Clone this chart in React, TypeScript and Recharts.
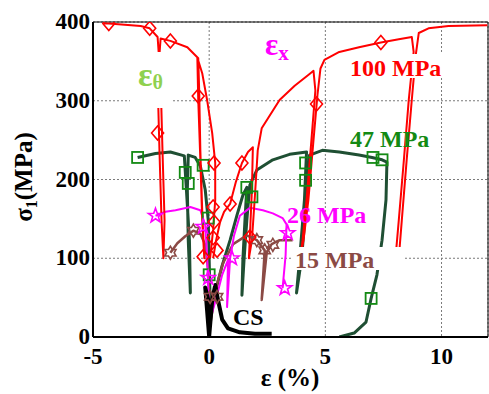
import React from "react";
import { ComposedChart, Line, Scatter, XAxis, YAxis, CartesianGrid, ReferenceArea } from "recharts";

type Pt = [number, number];

const xTicks = [-5, 0, 5, 10];
const yTicks = [0, 100, 200, 300, 400];

// 100 MPa: axial (ex) and hoop (etheta) strain, with unload loops
const ex100: Pt[] = [
  [0.17, 100], [0.3, 123], [0.47, 146], [0.64, 159], [0.9, 169], [1.15, 197], [1.41, 221], [1.67, 235], [1.88, 241],
  [1.84, 187], [1.75, 127], [1.71, 100], [1.84, 123], [1.97, 180], [2.09, 237],
  [2.26, 265], [3.03, 301], [3.68, 319], [4.32, 334], [4.49, 338],
  [4.57, 313], [4.4, 250], [4.19, 174], [4.02, 123], [3.93, 102], [4.06, 123], [4.27, 174], [4.49, 250], [4.66, 307],
  [4.79, 341], [4.96, 352], [5.6, 362], [6.45, 368], [7.39, 374], [8.16, 378], [8.72, 381],
  [8.8, 362], [8.59, 301], [8.38, 225], [8.16, 148], [8.03, 104], [8.16, 100], [8.29, 148], [8.5, 225], [8.72, 301], [8.89, 358],
  [9.02, 386], [9.44, 392], [10.3, 395], [11.97, 396],
];
const eth100: Pt[] = [
  [0.04, 100], [0.17, 136], [0.26, 174], [0.26, 221], [0.13, 259], [-0.09, 301], [-0.3, 335], [-0.51, 355],
  [-0.47, 301], [-0.38, 225], [-0.3, 148], [-0.21, 100], [-0.3, 161], [-0.38, 237], [-0.43, 313], [-0.47, 354],
  [-0.94, 368], [-1.67, 376], [-2.09, 379],
  [-2.22, 326], [-2.14, 237], [-2.05, 148], [-1.97, 100], [-1.92, 148], [-2.01, 237], [-2.09, 326], [-2.22, 381],
  [-2.56, 392], [-2.95, 395], [-4.32, 398], [-4.53, 398],
];
const marks100: Pt[] = [
  [-4.32, 398], [-2.56, 392], [-1.67, 376], [-0.47, 306], [-2.22, 259], [0.21, 221], [0.17, 165], [0.21, 146],
  [0.17, 126], [-0.26, 102], [0.34, 110], [0.9, 169], [1.41, 221], [1.75, 127], [4.62, 296], [7.39, 374],
];

// 47 MPa
const ex47: Pt[] = [
  [0.09, 47], [0.34, 66], [0.56, 91], [0.9, 123], [1.2, 155], [1.45, 180], [1.62, 190],
  [1.54, 148], [1.45, 98], [1.41, 53], [1.5, 98], [1.62, 148], [1.75, 193],
  [2.05, 212], [2.74, 225], [3.46, 232], [4.19, 235],
  [4.1, 174], [3.89, 98], [3.76, 56], [3.97, 98], [4.19, 174], [4.32, 231],
  [4.87, 237], [5.6, 235], [6.45, 231], [7.01, 228], [7.44, 225], [7.65, 222],
  [7.61, 174], [7.44, 123], [7.22, 79], [6.97, 49], [6.75, 19], [6.24, 5], [5.6, 0],
];
const eth47: Pt[] = [
  [0.04, 47], [0, 98], [-0.04, 148], [-0.17, 187], [-0.38, 217], [-0.6, 228], [-0.9, 231],
  [-0.94, 187], [-0.9, 123], [-0.81, 56], [-0.85, 123], [-0.98, 187], [-1.07, 230],
  [-1.67, 235], [-2.31, 233], [-3.08, 228],
];
const marks47: Pt[] = [
  [-3.08, 228], [-1.03, 209], [-0.9, 195], [-0.26, 218], [-0.04, 151], [0, 79], [1.62, 190], [1.84, 178],
  [4.15, 221], [4.15, 199], [7.05, 228], [7.44, 225], [6.97, 49],
];

// 26 MPa
const eth26: Pt[] = [
  [0, 27], [-0.04, 60], [-0.09, 104], [-0.17, 142], [-0.38, 161], [-0.81, 165], [-1.45, 161], [-1.88, 159], [-2.31, 154],
];
const ex26: Pt[] = [
  [0.09, 27], [0.3, 49], [0.56, 79], [0.81, 98], [0.77, 38], [0.9, 100], [1.07, 129], [1.32, 154], [1.75, 164],
  [2.31, 161], [2.74, 157], [3.16, 151], [3.33, 143], [3.29, 104], [3.16, 62],
];
const marks26: Pt[] = [[-2.31, 154], [-0.26, 140], [-0.04, 75], [0.98, 100], [3.38, 132], [3.25, 62]];

// 15 MPa
const eth15: Pt[] = [
  [0, 15], [0, 47], [-0.04, 85], [-0.17, 117], [-0.38, 131], [-0.68, 135], [-1.03, 128], [-1.37, 119], [-1.67, 107],
];
const ex15: Pt[] = [
  [0.04, 15], [0.21, 47], [0.38, 72], [0.6, 94], [1.03, 118], [1.62, 129], [2.05, 123], [2.39, 110],
  [2.26, 47], [2.48, 108], [2.69, 118], [3.03, 123], [3.59, 123],
];
const marks15: Pt[] = [[-1.67, 107], [-0.68, 135], [0.04, 51], [0.34, 51], [2.05, 123], [2.39, 110], [2.74, 117]];

// confined-free (CS)
const cs: Pt[] = [
  [0, 0], [-0.09, 34], [-0.17, 63], [-0.04, 47], [0, 1], [0.13, 47], [0.26, 66], [0.38, 47],
  [0.56, 22], [0.81, 11], [1.32, 6], [1.97, 4], [2.69, 4],
];

const rows = (a: Pt[]) => a.map(([x, y]) => ({ x, y }));

const RED = "#ff0000";
const DKGREEN = "#1f4f33";
const GREEN = "#138a13";
const MAGENTA = "#ff00ff";
const BROWN = "#8b4a45";

const Diamond = (p: any) => (
  <polygon
    points={`${p.cx},${p.cy - 7} ${p.cx + 6},${p.cy} ${p.cx},${p.cy + 7} ${p.cx - 6},${p.cy}`}
    fill="none" stroke={RED} strokeWidth={1.6}
  />
);
const Square = (p: any) => (
  <rect x={p.cx - 5.5} y={p.cy - 5.5} width={11} height={11} fill="none" stroke={GREEN} strokeWidth={1.8} />
);
const starPts = (cx: number, cy: number, R: number, r: number, n: number) => {
  const out: string[] = [];
  for (let i = 0; i < n * 2; i++) {
    const rad = i % 2 === 0 ? R : r;
    const a = -Math.PI / 2 + (i * Math.PI) / n;
    out.push(`${cx + rad * Math.cos(a)},${cy + rad * Math.sin(a)}`);
  }
  return out.join(" ");
};
const Star = (p: any) => (
  <polygon points={starPts(p.cx, p.cy, 7.5, 3, 5)} fill="none" stroke={MAGENTA} strokeWidth={1.6} />
);
const Hexagram = (p: any) => (
  <polygon points={starPts(p.cx, p.cy, 6.5, 3.8, 6)} fill="none" stroke={BROWN} strokeWidth={1.6} />
);

const font = "Liberation Serif";

const XTick = ({ x, y, payload }: any) => (
  <text x={x} y={y} dy={16} textAnchor="middle" fontFamily={font} fontWeight="bold" fontSize={23} fill="#000">
    {payload.value}
  </text>
);
const YTick = ({ x, y, payload }: any) => (
  <text x={x} y={y} dy={7} textAnchor="end" fontFamily={font} fontWeight="bold" fontSize={23} fill="#000">
    {payload.value}
  </text>
);

export default function App() {
  const lineProps = { dataKey: "y", dot: false, activeDot: false, isAnimationActive: false, strokeLinejoin: "round" as const };
  return (
    <div style={{ position: "absolute", left: 0, top: 0, width: 489, height: 394, background: "#fff" }}>
      <ComposedChart width={489} height={394} margin={{ top: 22, right: 1, bottom: 0, left: 0 }}>
        <CartesianGrid stroke="#7a7a7a" strokeDasharray="2 2" />
        <XAxis
          dataKey="x" type="number" domain={[-5, 12]} ticks={xTicks} allowDataOverflow
          height={57} tickLine={false} tickSize={0} tickMargin={11}
          axisLine={{ stroke: "#000", strokeWidth: 2 }}
          tick={<XTick />}
        />
        <YAxis
          dataKey="y" type="number" domain={[0, 400]} ticks={yTicks} allowDataOverflow
          width={93} tickLine={false} tickSize={0} tickMargin={3}
          axisLine={{ stroke: "#000", strokeWidth: 2 }}
          tick={<YTick />}
        />
        <ReferenceArea x1={-5} x2={12} y1={0} y2={400} fill="none" stroke="#000" strokeWidth={1} />
        <Line data={rows(ex47)} stroke={DKGREEN} strokeWidth={3} {...lineProps} />
        <Line data={rows(eth47)} stroke={DKGREEN} strokeWidth={3} {...lineProps} />
        <Line data={rows(ex15)} stroke={BROWN} strokeWidth={2.5} {...lineProps} />
        <Line data={rows(eth15)} stroke={BROWN} strokeWidth={2.5} {...lineProps} />
        <Line data={rows(ex26)} stroke={MAGENTA} strokeWidth={2} {...lineProps} />
        <Line data={rows(eth26)} stroke={MAGENTA} strokeWidth={2} {...lineProps} />
        <Line data={rows(ex100)} stroke={RED} strokeWidth={2} {...lineProps} />
        <Line data={rows(eth100)} stroke={RED} strokeWidth={2} {...lineProps} />
        <Line data={rows(cs)} stroke="#000" strokeWidth={4} {...lineProps} />
        <Scatter data={rows(marks47)} dataKey="y" shape={Square} isAnimationActive={false} />
        <Scatter data={rows(marks15)} dataKey="y" shape={Hexagram} isAnimationActive={false} />
        <Scatter data={rows(marks26)} dataKey="y" shape={Star} isAnimationActive={false} />
        <Scatter data={rows(marks100)} dataKey="y" shape={Diamond} isAnimationActive={false} />
      </ComposedChart>
      <svg width={489} height={394} style={{ position: "absolute", left: 0, top: 0, pointerEvents: "none" }}>
        <g fontFamily={font} fontWeight="bold">
          <rect x={130} y={52} width={42} height={56} fill="#fff" />
          <text x={138} y={86} fontSize={34} fill="#8fd14f">
            ε<tspan fontSize={20} dy={3}>θ</tspan>
          </text>
          <text x={265} y={55} fontSize={31} fill={MAGENTA}>
            ε<tspan fontSize={21} dy={5}>x</tspan>
          </text>
          <rect x={348} y={54} width={95} height={24} fill="#fff" />
          <text x={350} y={76} fontSize={24} fill={RED}>100 MPa</text>
          <text x={350} y={147} fontSize={24} fill={GREEN}>47 MPa</text>
          <text x={287} y={223} fontSize={24} fill={MAGENTA}>26 MPa</text>
          <rect x={293} y={247} width={110} height={23} fill="#fff" />
          <text x={295} y={268} fontSize={24} fill={BROWN}>15 MPa</text>
          <text x={233} y={325} fontSize={24} fill="#000">CS</text>
          <text x={290} y={386} fontSize={25} fill="#000" textAnchor="middle">ε (%)</text>
          <text x={32} y={177} fontSize={25} fill="#000" textAnchor="middle" transform="rotate(-90, 32, 177)">
            σ<tspan fontSize={16} dy={5}>1</tspan><tspan dy={-5}>(MPa)</tspan>
          </text>
        </g>
      </svg>
    </div>
  );
}
